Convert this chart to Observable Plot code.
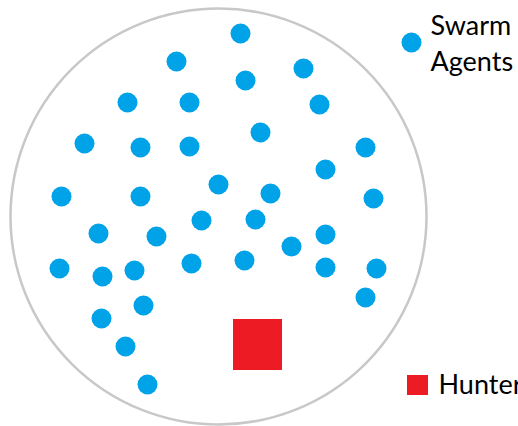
<!DOCTYPE html>
<html>
<head>
<meta charset="utf-8">
<script src="https://cdn.jsdelivr.net/npm/d3@7"></script>
<script src="https://cdn.jsdelivr.net/npm/@observablehq/plot@0.6"></script>
<style>
  html, body { margin: 0; padding: 0; background: #fff; }
  #chart svg { display: block; }
</style>
</head>
<body>
<div id="chart"></div>
<script>
// Swarm agent positions (diagram units, y downward)
const agentX = [240,176,245,303,127,189,319,84,140,189,260,365,325,61,140,218,270,373,98,156,201,255,291,325,59,102,134,191,244,325,376,101,143,125,365,147];
const agentY = [33,61,80,68,102,102,104,143,147,146,132,147,169,196,196,184,193,198,233,236,220,219,246,234,268,276,270,263,260,267,268,318,305,346,297,384];

// Arena boundary
const arenaCenter = [218, 216];
const arenaRadius = 208;

// Hunter square
const hunterX = [233, 282];
const hunterY = [319, 370];

// Legend
const legendLabels = ["Swarm\nAgents", "Hunter"];
const legendSymbolX = [411, 417.5];
const legendSymbolY = [42, 385];
const legendTextX = [430, 438];
const legendTextY = [70, 393];
const hunterLegendX = [407, 428];
const hunterLegendY = [375, 395];

const agents = agentX.map((x, i) => ({x, y: agentY[i]}));
const legend = legendLabels.map((label, i) => ({label, x: legendTextX[i], y: legendTextY[i]}));

const blue = "#00a2e8";
const red = "#ed1c24";

const chart = Plot.plot({
  width: 518,
  height: 426,
  margin: 0,
  x: {domain: [0, 518], range: [0, 518], axis: null},
  y: {domain: [0, 426], range: [0, 426], axis: null},
  marks: [
    Plot.dot([{x: arenaCenter[0], y: arenaCenter[1]}], {x: "x", y: "y", r: arenaRadius, stroke: "#c8c8c8", strokeWidth: 2.5, fill: "none"}),
    Plot.dot(agents, {x: "x", y: "y", r: 10, fill: blue, stroke: "none"}),
    Plot.rect([{x1: hunterX[0], x2: hunterX[1], y1: hunterY[0], y2: hunterY[1]}], {x1: "x1", x2: "x2", y1: "y1", y2: "y2", fill: red}),
    Plot.dot([{x: legendSymbolX[0], y: legendSymbolY[0]}], {x: "x", y: "y", r: 10, fill: blue}),
    Plot.rect([{x1: hunterLegendX[0], x2: hunterLegendX[1], y1: hunterLegendY[0], y2: hunterLegendY[1]}], {x1: "x1", x2: "x2", y1: "y1", y2: "y2", fill: red}),
    Plot.text(legend, {x: "x", y: "y", text: "label", textAnchor: "start", lineAnchor: "bottom", lineHeight: 1.333, fontSize: 27, fontFamily: "Lato", fill: "#000"})
  ]
});
document.getElementById("chart").appendChild(chart);
</script>
</body>
</html>
